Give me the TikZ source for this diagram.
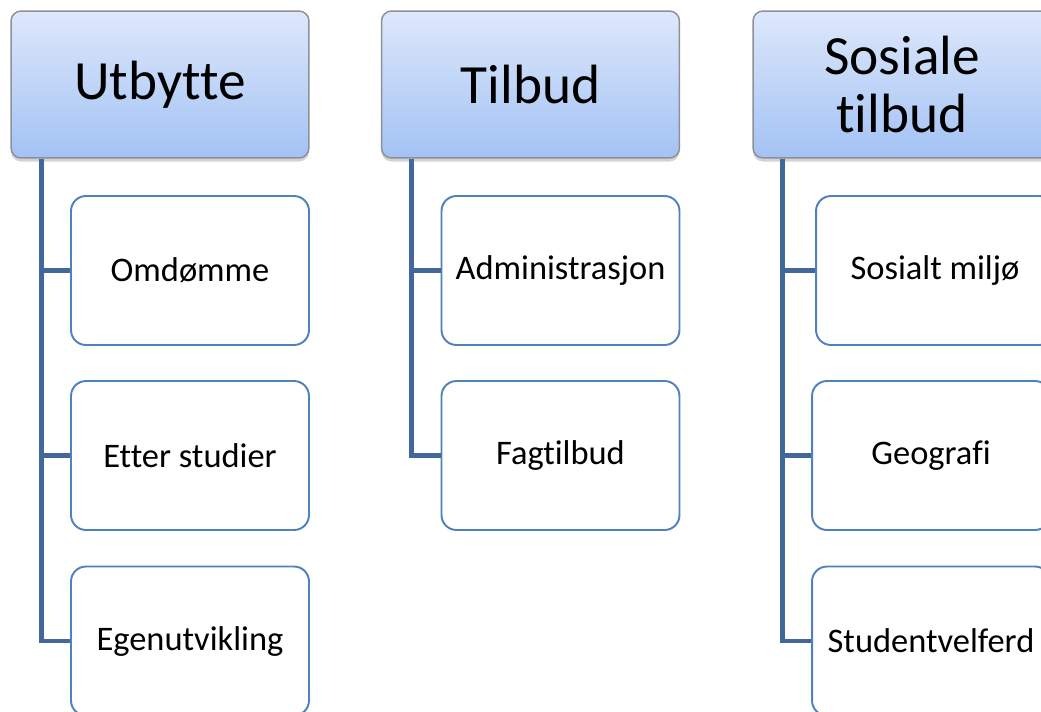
\documentclass[tikz,border=0pt]{standalone}
\usepackage{fontspec}
\setmainfont[Ligatures=NoCommon]{Carlito}
\usetikzlibrary{shadows}
\definecolor{headtop}{HTML}{DDE8FB}
\definecolor{headbot}{HTML}{A3C2F4}
\definecolor{headline}{HTML}{8E9098}
\definecolor{boxline}{HTML}{4F81BD}
\definecolor{linkline}{HTML}{42679A}
\tikzset{
    head/.style={draw=headline, line width=0.85pt, rounded corners=5.7pt,
        top color=headtop, bottom color=headbot, align=center,
        minimum width=5.96cm, minimum height=2.94cm,
        font=\fontsize{31.5}{33}\selectfont,
        drop shadow={shadow xshift=0pt, shadow yshift=-2pt, opacity=0.35}},
    item/.style={draw=boxline, line width=1.1pt, fill=white, rounded corners=8.5pt,
        minimum width=4.76cm, minimum height=2.98cm,
        font=\fontsize{19.6}{22}\selectfont},
    link/.style={draw=linkline, line width=2.8pt}
}
\begin{document}
\begin{tikzpicture}[x=0.02cm, y=-0.02cm]
        \useasboundingbox (0,0) rectangle (1041,711);
        \clip (0,0) rectangle (1041,711);
        % headers
        \node[head] (utbytte) at (160,84.5) {Utbytte};
        \node[head] (tilbud) at (530.5,84.5) {Tilbud};
        \node[head] (sosiale) at (902,84.5) {Sosiale\\tilbud};
        % first column
        \node[item] (omdomme) at (190,270.5) {Omdømme};
        \node[item] (etter) at (190,455.5) {Etter studier};
        \node[item] (egen) at (190,641) {Egenutvikling};
        % second column
        \node[item] (admin) at (560.5,270.5) {Administrasjon};
        \node[item] (fag) at (560.5,455.5) {Fagtilbud};
        % third column
        \node[item] (miljo) at (935,270.5) {Sosialt miljø};
        \node[item] (geografi) at (931,455.5) {Geografi};
        \node[item] (velferd) at (931,641) {Studentvelferd};
        % links
        \foreach \c in {omdomme,etter,egen}
            \draw[link] ([xshift=0.62cm]utbytte.south west) |- (\c.west);
        \foreach \c in {admin,fag}
            \draw[link] ([xshift=0.62cm]tilbud.south west) |- (\c.west);
        \foreach \c in {miljo,geografi,velferd}
            \draw[link] ([xshift=0.6cm]sosiale.south west) |- (\c.west);
    \end{tikzpicture}
\end{document}
